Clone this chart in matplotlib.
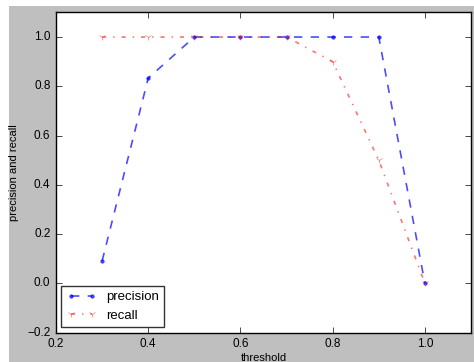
import matplotlib
matplotlib.use("Agg")
import matplotlib.pyplot as plt
from matplotlib.patches import Rectangle

plt.style.use("classic")
plt.rcParams['font.family'] = ['Liberation Sans', 'DejaVu Sans']

thresholds = [0.3, 0.4, 0.5, 0.6, 0.7, 0.8, 0.9, 1.0]
precision = [0.0909, 0.8333, 1.0, 1.0, 1.0, 1.0, 1.0, 0.0]
recall = [1.0, 1.0, 1.0, 1.0, 1.0, 0.9, 0.5, 0.0]

W, H = 474, 362
fig = plt.figure(figsize=(W / 100, H / 100), dpi=100, facecolor="white")
fig.patches.append(Rectangle((9 / W, 0), 1 - 9 / W, 1 - 6 / H, transform=fig.transFigure,
                             facecolor="#bfbfbf", edgecolor="none", zorder=-10))
ax = fig.add_axes([56 / W, 29.4 / H, 415 / W, 320.2 / H])

ax.plot(thresholds, precision, 'b.--', label='precision', lw=1.2, markersize=5, alpha=0.7)
ax.plot(thresholds, recall, 'r1-.', label='recall', lw=1.2, markersize=5, alpha=0.55)

ax.set_xlim(0.2, 1.1)
ax.set_ylim(-0.2, 1.1)
ax.set_xticks([0.2, 0.4, 0.6, 0.8, 1.0])
ax.set_yticks([-0.2, 0.0, 0.2, 0.4, 0.6, 0.8, 1.0])
ax.tick_params(labelsize=8.5, length=4)
ax.set_xlabel('threshold', fontsize=8, labelpad=2)
ax.set_ylabel('precision and recall', fontsize=8, labelpad=6)

leg = ax.legend(loc='lower left', fontsize=9.5, numpoints=2, borderaxespad=0.4,
                handlelength=2.2, fancybox=False)
leg.get_frame().set_edgecolor('#333333')

fig.savefig("out.png", dpi=100, facecolor=fig.get_facecolor())
